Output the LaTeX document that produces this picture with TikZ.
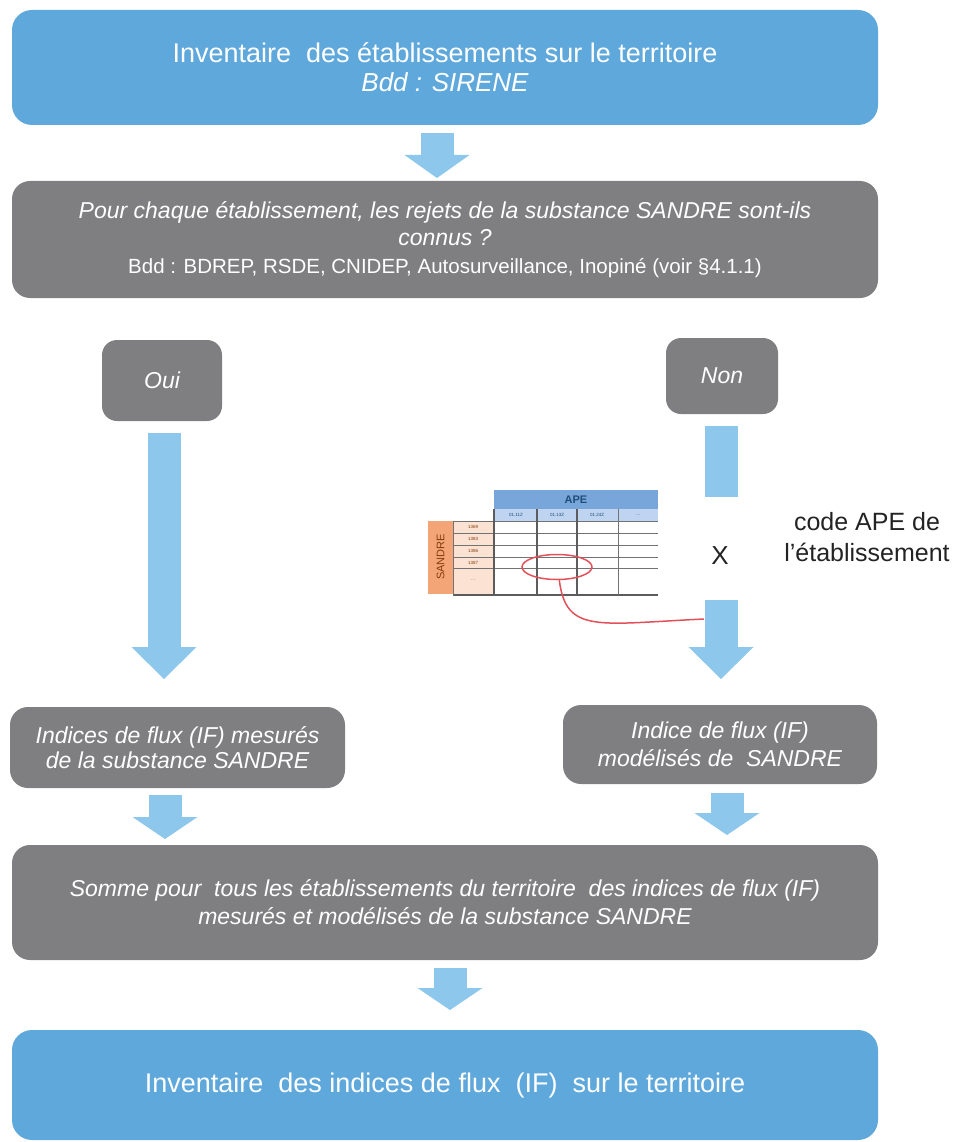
\documentclass[tikz,border=0pt]{standalone}
\usepackage{fontspec}
\setmainfont{Liberation Sans}
\usetikzlibrary{arrows.meta,shapes.geometric,calc}

\definecolor{boxblue}{RGB}{95,168,220}
\definecolor{boxgray}{RGB}{127,127,129}
\definecolor{flowblue}{RGB}{141,199,236}
\definecolor{apeblue}{RGB}{120,165,218}
\definecolor{apelight}{RGB}{190,212,240}
\definecolor{apetext}{RGB}{31,78,121}
\definecolor{sandreorange}{RGB}{244,165,120}
\definecolor{sandrelight}{RGB}{252,226,210}
\definecolor{sandretext}{RGB}{132,60,12}
\definecolor{gridgray}{RGB}{115,115,115}
\definecolor{linkred}{RGB}{228,80,90}
\definecolor{labeltext}{RGB}{35,35,35}

\begin{document}
\begin{tikzpicture}[x=1pt,y=-1pt,
  panel/.style={rectangle, inner sep=0pt, align=center, text=white},
  bluepanel/.style={panel, fill=boxblue, rounded corners=20pt,
    minimum width=866pt},
  graypanel/.style={panel, fill=boxgray, rounded corners=18pt},
  choice/.style={panel, fill=boxgray, rounded corners=15pt,
    font=\fontsize{23}{27}\selectfont\itshape},
  flowarrow/.style={draw=flowblue, line width=33pt,
    -{Triangle[width=65pt, length=#1, line width=0pt]}},
  flowshaft/.style={draw=flowblue, line width=33pt},
  grid/.style={draw=gridgray, line width=0.8pt},
  gridbold/.style={draw=gridgray!80!black, line width=1.4pt},
  tiny/.style={inner sep=0pt, font=\fontsize{4.5}{5}\selectfont},
]
\useasboundingbox (0,0) rectangle (954,1142);

% ---- main boxes ----
\node[bluepanel, minimum height=115pt, font=\fontsize{27}{29}\selectfont]
  (top) at (445,67.5)
  {Inventaire\ \ des établissements sur le territoire\\
   {\fontsize{26}{29}\selectfont\itshape Bdd : SIRENE}};

\node[graypanel, minimum width=866pt, minimum height=117pt,
      font=\fontsize{23}{27.5}\selectfont]
  (question) at (445,239.5)
  {\textit{Pour chaque établissement, les rejets de la substance SANDRE sont-ils}\\
   \textit{connus ?}\\
   {\fontsize{20.5}{26}\selectfont Bdd : BDREP, RSDE, CNIDEP, Autosurveillance, Inopiné (voir §4.1.1)}};

\node[choice, minimum width=120pt, minimum height=81pt] (oui) at (162,380.5) {Oui};
\node[choice, minimum width=112pt, minimum height=76pt] (non) at (722,376) {Non};

\node[graypanel, minimum width=335pt, minimum height=81pt,
      font=\fontsize{23}{25}\selectfont\itshape]
  (mesures) at (177.5,747.5)
  {Indices de flux (IF) mesurés\\ de la substance SANDRE};

\node[graypanel, minimum width=314pt, minimum height=79pt,
      font=\fontsize{23}{28}\selectfont\itshape]
  (modelises) at (720,744.5)
  {Indice de flux (IF)\\ modélisés de\ \ SANDRE};

\node[graypanel, minimum width=866pt, minimum height=115pt,
      font=\fontsize{23}{28}\selectfont\itshape]
  (somme) at (445,902.5)
  {Somme pour\ \ tous les établissements du territoire\ \ des indices de flux (IF)\\
   mesurés et modélisés de la substance SANDRE};

\node[bluepanel, minimum height=110pt, font=\fontsize{27}{29}\selectfont]
  (inventaire) at (445,1085)
  {Inventaire\ \ des indices de flux\ \ (IF)\ \ sur le territoire};

% ---- flow arrows ----
\coordinate (a1s) at (437,133);   \coordinate (a1e) at (437,178);
\coordinate (ouis) at (164,433);  \coordinate (ouie) at (164,679);
\coordinate (nons) at (721,426);  \coordinate (nonm) at (721,497);
\coordinate (nonr) at (721,600);  \coordinate (none) at (721,679);
\coordinate (ms) at (165,795);    \coordinate (me) at (165,839);
\coordinate (ds) at (727,793);    \coordinate (de) at (727,835);
\coordinate (ss) at (450,968);    \coordinate (se) at (450,1010);

\draw[flowarrow=23pt] (a1s) -- (a1e);
\draw[flowarrow=32pt] (ouis) -- (ouie);
\draw[flowshaft] (nons) -- (nonm);
\draw[flowarrow=32pt] (nonr) -- (none);
\draw[flowarrow=22pt] (ms) -- (me);
\draw[flowarrow=22pt] (ds) -- (de);
\draw[flowarrow=22pt] (ss) -- (se);

% ---- multiplication sign and label ----
\node[inner sep=0pt, text=labeltext, font=\fontsize{26}{28}\selectfont]
  (times) at (720,556) {X};
\node[inner sep=0pt, align=center, text=labeltext,
      font=\fontsize{25}{31}\selectfont]
  (apelabel) at (867,537) {code APE de\\ l’établissement};

% ---- SANDRE x APE lookup table ----
\fill[apeblue] (494,490) rectangle (658,509);
\fill[apelight] (494,509) rectangle (658,521);
\fill[sandreorange] (428,521) rectangle (453,594);
\fill[sandrelight] (453,521) rectangle (494,594);

\foreach \yy in {521,533,545,557,568}
  \draw[grid] (453,\yy) -- (658,\yy);
\draw[gridbold] (453,595) -- (658,595);
\draw[grid] (453,521) -- (453,595);
\draw[gridbold] (494,509) -- (494,595);
\draw[gridbold] (537,509) -- (537,595);
\draw[gridbold] (577,509) -- (577,595);
\draw[grid] (618,509) -- (618,595);

\node[inner sep=0pt, text=apetext, font=\fontsize{11}{12}\selectfont\bfseries]
  (apehead) at (576,499.5) {APE};
\node[tiny, text=apetext] (c1) at (516,515) {01.11Z};
\node[tiny, text=apetext] (c2) at (557,515) {01.13Z};
\node[tiny, text=apetext] (c3) at (597,515) {01.24Z};
\node[tiny, text=apetext] (c4) at (638,515) {…};

\node[tiny, text=sandretext] (r1) at (473,527) {1369};
\node[tiny, text=sandretext] (r2) at (473,539) {1383};
\node[tiny, text=sandretext] (r3) at (473,551) {1386};
\node[tiny, text=sandretext] (r4) at (473,562.5) {1387};
\node[tiny, text=sandretext] (r5) at (473,580) {…};

\node[inner sep=0pt, rotate=90, text=sandretext, font=\fontsize{11}{12}\selectfont]
  (sandre) at (440.5,557) {SANDRE};

% ---- selected cell and link to the modelled branch ----
\node[ellipse, draw=linkred, line width=1.5pt, minimum width=70pt,
      minimum height=25pt, inner sep=0pt] (cell) at (557,567) {};
\coordinate (link) at (704,619);
\draw[linkred, line width=1.5pt]
  (cell.-80) .. controls (566,634) and (598,624) .. (link);
\end{tikzpicture}
\end{document}
